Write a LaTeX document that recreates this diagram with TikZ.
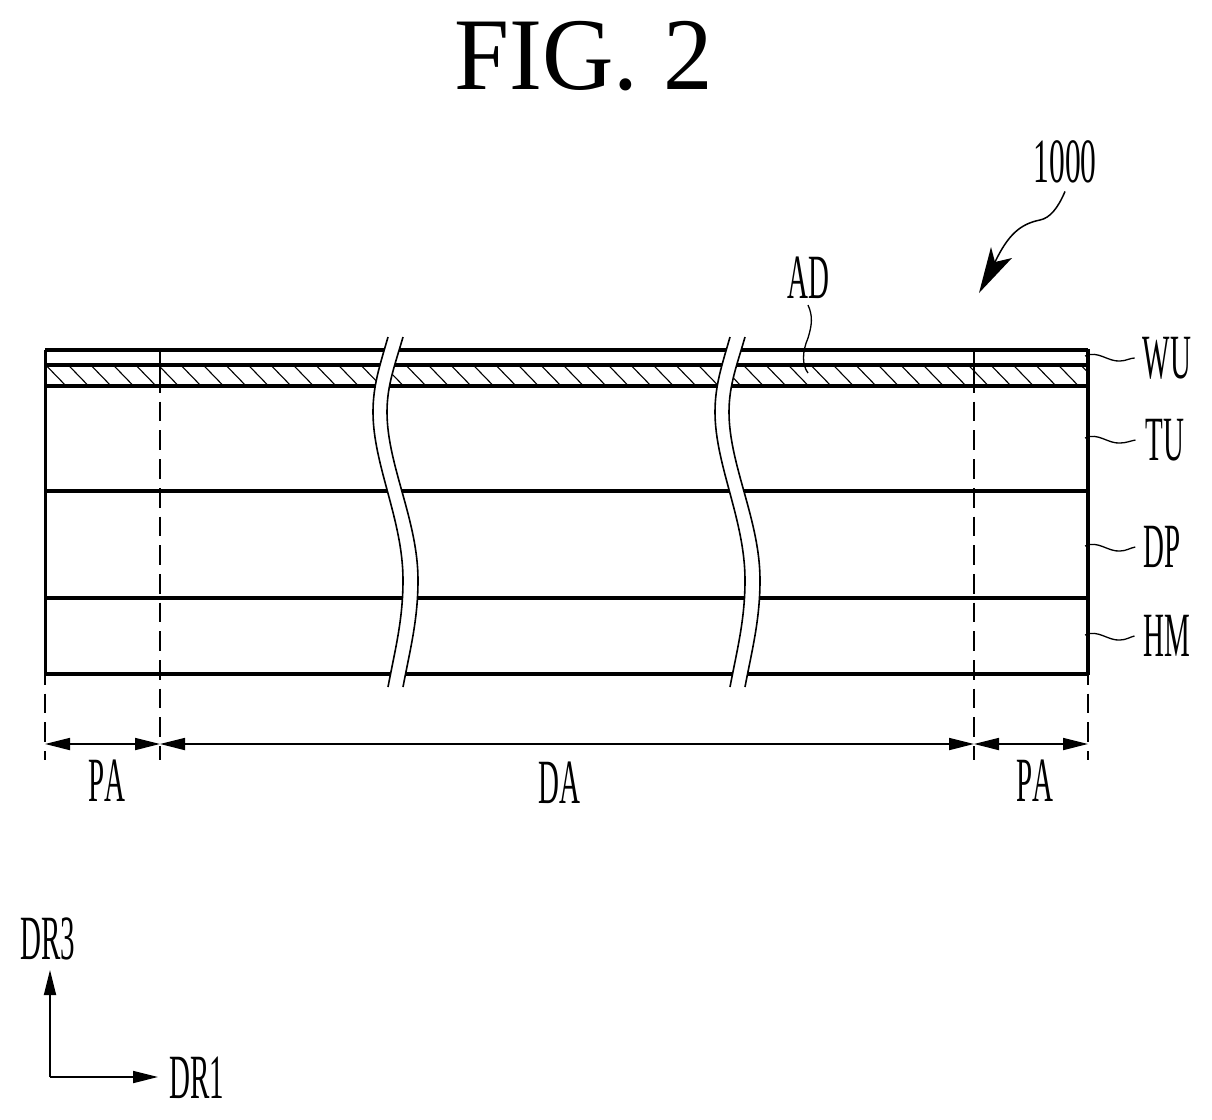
\documentclass[tikz,border=0pt]{standalone}
\usepackage{fontspec}
\usepackage{graphicx}
\setmainfont[Kerning=Off]{Liberation Serif}
\usetikzlibrary{arrows.meta}
\newcommand{\lbl}[1]{\scalebox{.46}[1]{#1}}
\newcommand{\breakedge}{(388,337) .. controls (380,365) and (373,385) .. (373,412) .. controls (373,465) and (403,520) .. (403,580) .. controls (403,620) and (395,650) .. (388,687)}
\newcommand{\breakfill}{(388,337) .. controls (380,365) and (373,385) .. (373,412) .. controls (373,465) and (403,520) .. (403,580) .. controls (403,620) and (395,650) .. (388,687) -- (403,687) .. controls (410,650) and (418,620) .. (418,580) .. controls (418,520) and (387,465) .. (387,412) .. controls (387,385) and (395,365) .. (403,337) -- cycle}
\newcommand{\breakother}{(403,337) .. controls (395,365) and (387,385) .. (387,412) .. controls (387,465) and (418,520) .. (418,580) .. controls (418,620) and (410,650) .. (403,687)}
\tikzset{
  lab/.style={inner sep=0pt,font=\fontsize{63}{63}\selectfont},
  heavy/.style={line width=3.2pt},
  wave/.style={line width=1.6pt},
  leader/.style={line width=1.3pt},
  dashline/.style={line width=2pt,dash pattern=on 19.7pt off 9pt},
  dim/.style={line width=1.8pt,{Triangle[length=25pt,width=12pt]}-{Triangle[length=25pt,width=12pt]}},
  axis/.style={line width=1.8pt,-{Triangle[length=25pt,width=12pt]}}
}
\begin{document}
\begin{tikzpicture}[x=1pt,y=-1pt]
\useasboundingbox (0,0) rectangle (1212,1119);
% title and labels
\node[inner sep=0pt,font=\fontsize{103}{103}\selectfont] (title) at (583.5,56) {\scalebox{.96}[1]{FIG. 2}};
\node[lab] (n1000) at (1065,162) {\scalebox{.5}[1]{1000}};
\node[lab] (AD) at (808,278) {\lbl{AD}};
\node[lab] (WU) at (1167,358) {\lbl{WU}};
\node[lab] (TU) at (1165,440) {\lbl{TU}};
\node[lab] (DP) at (1162,547) {\lbl{DP}};
\node[lab] (HM) at (1167,636) {\lbl{HM}};
\node[lab] (PAl) at (107,781) {\lbl{PA}};
\node[lab] (DA) at (559,783) {\lbl{DA}};
\node[lab] (PAr) at (1035,781) {\lbl{PA}};
\node[lab] (DRc) at (48,939) {\lbl{DR3}};
\node[lab] (DRa) at (197,1078) {\lbl{DR1}};
% corners
\coordinate (tl) at (45,350); \coordinate (tr) at (1088,350);
\coordinate (bl) at (45,674); \coordinate (br) at (1088,674);
\coordinate (o) at (50,1077);
\coordinate (dx) at (158,1077);
\coordinate (dy) at (50,970);
% hatching
\begin{scope}
\clip (45,366) rectangle (1088,386);
\foreach \i in {0,...,46} {
  \draw[line width=1.1pt] ({46.7+22.5*\i},366) -- ({46.7+22.5*\i+19.4},386);
}
\end{scope}
% layers
\draw[line width=3.8pt] (tl) -- (tr);
\draw[heavy] (45,365) -- (1088,365);
\draw[heavy] (45,386) -- (1088,386);
\draw[heavy] (45,491) -- (1088,491);
\draw[heavy] (45,598) -- (1088,598);
\draw[heavy] (bl) -- (br);
\draw[line width=3pt] (tl) -- (bl);
\draw[line width=4pt] ([yshift=1pt]tr) -- ([yshift=-1pt]br);
% boundary lines
\draw[line width=2pt] (160,350) -- (160,386);
\draw[line width=2pt] (974,350) -- (974,386);
\draw[dashline] (160,373) -- (160,760);
\draw[dashline] (974,373) -- (974,760);
\draw[dashline] (45,665) -- (45,760);
\draw[dashline] (1088,665) -- (1088,760);
% breaks
\foreach \s in {0,342} {
  \begin{scope}[xshift=\s pt]
    \fill[white] \breakfill;
    \draw[wave] \breakedge;
    \draw[wave] \breakother;
  \end{scope}
}
% dimension arrows
\coordinate (d0) at (45,744); \coordinate (d1) at (160,744);
\coordinate (d2) at (974,744); \coordinate (d3) at (1088,744);
\draw[dim] (d0) -- (d1);
\draw[dim] (d1) -- (d2);
\draw[dim] (d2) -- (d3);
% axes
\draw[axis] (o) -- (dy);
\draw[axis] (o) -- (dx);
% leaders
\draw[leader] (1085,356) .. controls (1098,350) and (1108,362) .. (1120,361) .. controls (1126,361) and (1130,358) .. ([xshift=-8pt]WU.west);
\draw[leader] (1085,438) .. controls (1098,432) and (1108,444) .. (1120,443) .. controls (1126,443) and (1130,441) .. ([xshift=-10pt]TU.west);
\draw[leader] (1085,546) .. controls (1098,540) and (1108,552) .. (1120,551) .. controls (1126,551) and (1130,548) .. ([xshift=-8pt]DP.west);
\draw[leader] (1085,635) .. controls (1098,629) and (1108,641) .. (1120,640) .. controls (1126,640) and (1130,637) .. ([xshift=-9pt]HM.west);
\draw[leader] ([yshift=-6pt]AD.south) .. controls (813,316) and (812,325) .. (808,338) .. controls (802,352) and (802,365) .. (808,373);
% 1000 arrow
\draw[line width=1.5pt] ([yshift=-8pt]n1000.south) .. controls (1058,208) and (1050,218) .. (1040,220) .. controls (1020,224) and (1008,235) .. (995,262);
\fill (979,293) -- (991,247) -- (995,262) -- (1012,258) -- cycle;
\end{tikzpicture}
\end{document}
